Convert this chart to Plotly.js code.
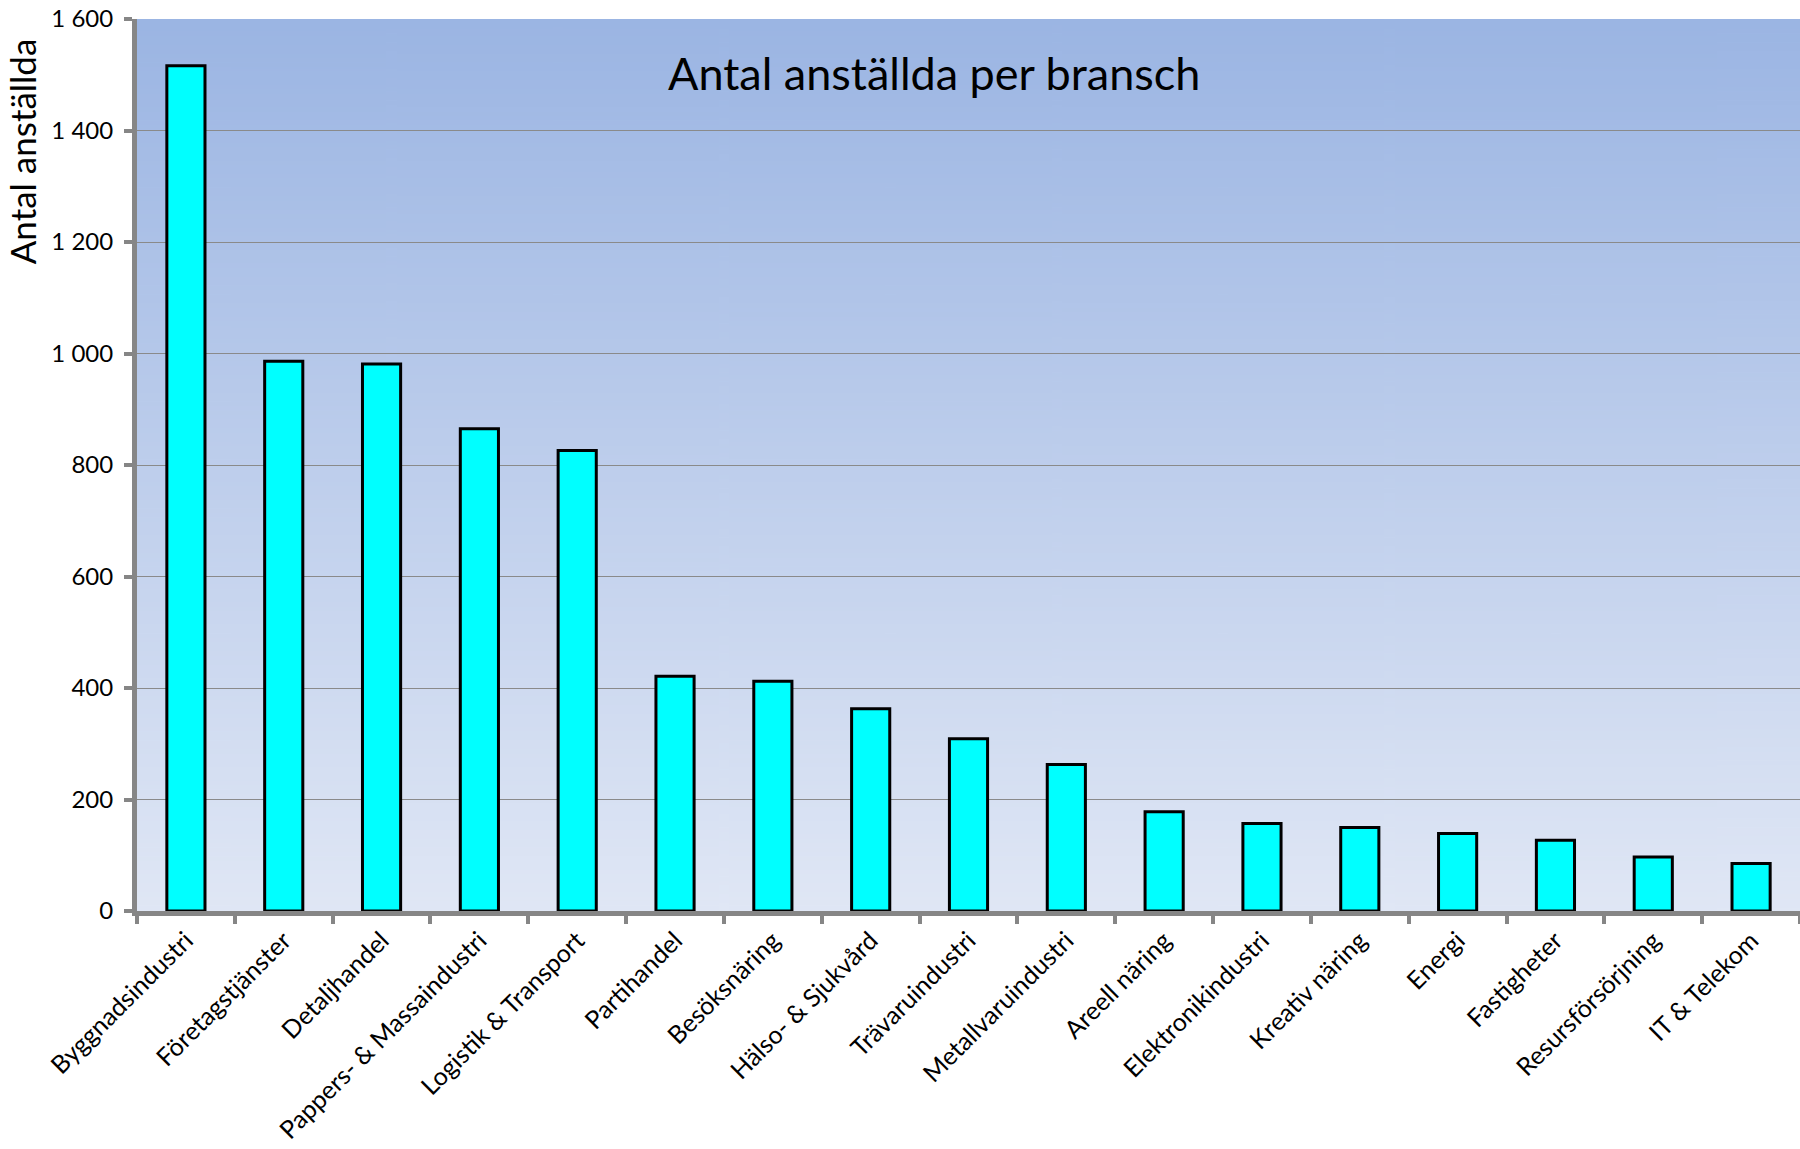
<!DOCTYPE html>
<html>
<head>
<meta charset="utf-8">
<script src="https://cdn.plot.ly/plotly-3.0.1.min.js"></script>
<style>
html,body{margin:0;padding:0;background:#fff;}
#chart{width:1800px;height:1149px;}
</style>
</head>
<body>
<div id="chart"></div>
<script>
var categories = ["Byggnadsindustri","Företagstjänster","Detaljhandel","Pappers- & Massaindustri","Logistik & Transport","Partihandel","Besöksnäring","Hälso- & Sjukvård","Trävaruindustri","Metallvaruindustri","Areell näring","Elektronikindustri","Kreativ näring","Energi","Fastigheter","Resursförsörjning","IT & Telekom"];
var employees = [1516, 986, 981, 865, 826, 421, 412, 363, 309, 263, 178, 157, 150, 139, 127, 97, 85];
var yTicks = [0, 200, 400, 600, 800, 1000, 1200, 1400, 1600];

// background gradient image for plot area
var cv = document.createElement('canvas');
cv.width = 10; cv.height = 400;
var ctx = cv.getContext('2d');
var g = ctx.createLinearGradient(0, 0, 0, 400);
g.addColorStop(0, 'rgb(155,181,227)');
g.addColorStop(1, 'rgb(224,231,245)');
ctx.fillStyle = g;
ctx.fillRect(0, 0, 10, 400);
var bgURL = cv.toDataURL('image/png');

var FONT = 'Lato, "Open Sans", sans-serif';

var trace = {
  type: 'bar',
  x: categories,
  y: employees,
  marker: {color: '#00FFFF', line: {color: '#000000', width: 3}},
  width: 0.39,
  hoverinfo: 'x+y'
};

var layout = {
  width: 1800, height: 1149,
  margin: {l: 137, r: 0, t: 19, b: 238, pad: 0},
  paper_bgcolor: '#ffffff',
  plot_bgcolor: 'rgba(0,0,0,0)',
  separators: ', ',
  font: {family: FONT, color: '#000000', size: 24},
  title: {text: 'Antal anställda per bransch', font: {family: FONT, size: 45, color: '#000'},
          x: 0.519, xanchor: 'center', y: 0.935, yanchor: 'middle'},
  showlegend: false,
  xaxis: {
    type: 'category',
    range: [-0.5, 16.5],
    tickangle: -45,
    ticks: 'outside', tickson: 'boundaries', ticklen: 8, tickwidth: 4, tickcolor: '#868686',
    showline: true, linecolor: '#868686', linewidth: 5,
    showgrid: false,
    tickfont: {family: FONT, size: 25, color: '#000'},
    automargin: false
  },
  yaxis: {
    range: [0, 1600],
    tickvals: yTicks,
    tickformat: ',d',
    separatethousands: true,
    ticks: 'outside', ticklen: 8, tickwidth: 4, tickcolor: '#868686',
    ticklabelstandoff: 6,
    showline: true, linecolor: '#868686', linewidth: 5,
    showgrid: true, gridcolor: '#8a8a8a', gridwidth: 1,
    zeroline: false,
    tickfont: {family: FONT, size: 24, color: '#000'},
    automargin: false
  },
  annotations: [{
    text: 'Antal anställda', xref: 'paper', yref: 'paper',
    x: -0.069, y: 0.852, xanchor: 'center', yanchor: 'middle',
    textangle: -90, showarrow: false,
    font: {family: FONT, size: 35, color: '#000'}
  }],
  images: [{
    source: bgURL, xref: 'paper', yref: 'paper',
    x: 0, y: 1, sizex: 1, sizey: 1, xanchor: 'left', yanchor: 'top',
    sizing: 'stretch', layer: 'below'
  }]
};

Plotly.newPlot('chart', [trace], layout, {displayModeBar: false, staticPlot: true});
</script>
</body>
</html>
